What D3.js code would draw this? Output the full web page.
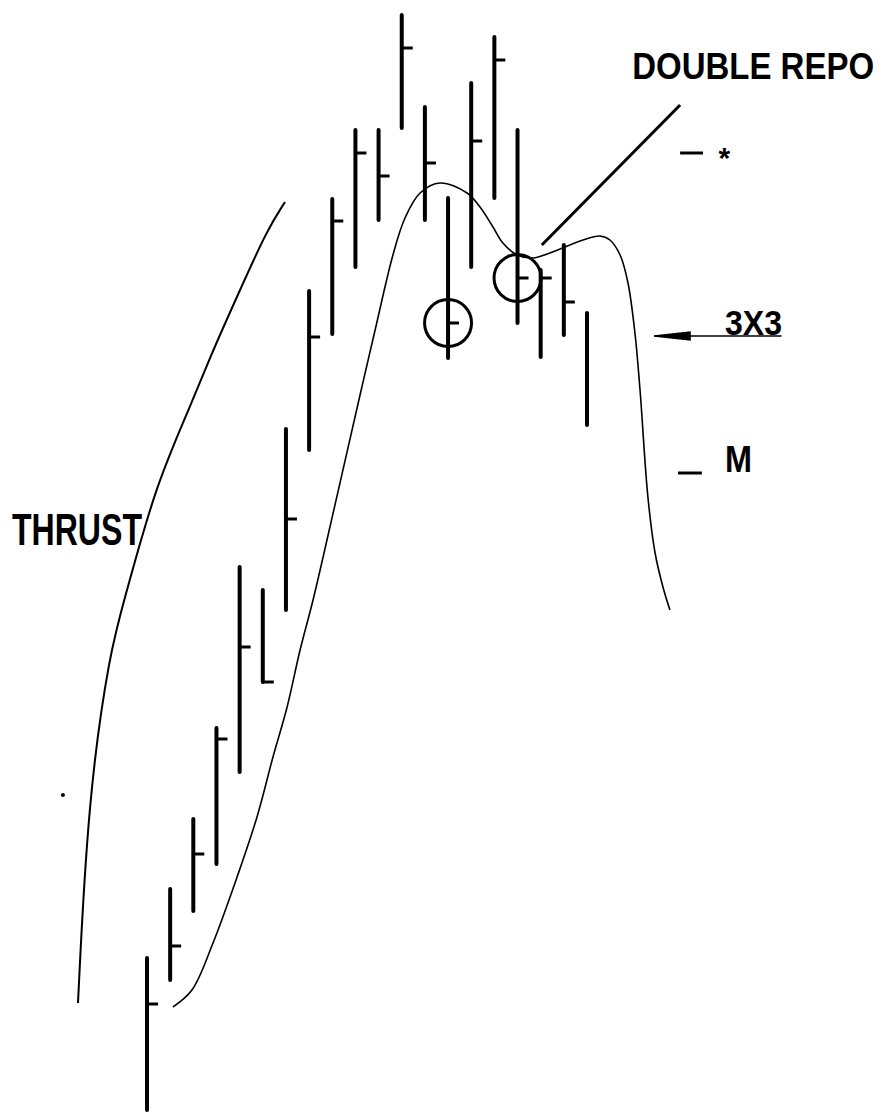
<!DOCTYPE html>
<html>
<script src="https://d3js.org/d3.v7.min.js"></script>
<style>
    body {
        margin: 0;
        background: white;
    }

    text {
        font-family: "Liberation Sans Narrow", "Arial Narrow", "Liberation Sans", sans-serif;
        font-weight: bold;
        fill: black;
    }
</style>

<body>
</body>
<script>
    // bar data (price units)
    const highs = [15.2, 22.1, 29.1, 38.2, 54.3, 52.0, 68.1, 81.9, 91.1, 98.0, 98.0, 109.5, 100.3, 91.2, 102.7, 107.3, 98.0, 84.0, 86.5, 79.7];
    const lows = [0.0, 13.0, 19.9, 24.6, 33.8, 42.8, 50.0, 66.0, 77.6, 84.3, 89.0, 98.2, 89.0, 75.2, 84.3, 91.2, 78.7, 75.3, 77.5, 68.5];
    const closes = [10.6, 16.4, 25.6, 37.1, 46.3, 42.8, 59.1, 77.3, 88.9, 95.7, 93.4, 106.2, 94.7, 78.7, 96.9, 105.0, 83.2, 83.2, 80.8, null];
    const circled = [13, 16];

    // 3x3 displaced moving average
    const dmaIdx = [1.12, 1.94, 2.85, 3.89, 4.75, 5.44, 6.05, 6.61, 7.17, 7.90, 9.15, 9.85, 10.62, 11.14, 11.79, 12.65, 13.82, 14.38, 14.94, 15.37, 15.98, 16.67, 17.40, 18.83, 19.56, 19.99, 20.43, 20.77, 21.07, 21.29, 21.63, 21.94, 22.28, 22.58];
    const dmaVal = [10.3, 12.0, 16.7, 23.3, 29.3, 35.3, 40.3, 46.0, 51.0, 58.3, 71.0, 78.0, 85.5, 89.2, 91.7, 92.7, 91.7, 90.3, 88.3, 86.7, 85.5, 85.2, 85.7, 87.0, 87.4, 87.0, 85.5, 82.7, 77.7, 72.0, 61.3, 55.7, 52.3, 50.0];

    // thrust arc
    const thrustIdx = [-2.98, -2.55, -1.60, -0.95, 0.35, 1.86, 2.85, 4.02, 5.18, 5.96];
    const thrustVal = [10.7, 31.0, 46.0, 51.2, 62.3, 70.3, 76.0, 82.0, 88.0, 90.8];

    const width = 890,
        height = 1114;
    const svg = d3.select("body").append("svg").attr("width", width).attr("height", height);
    svg.append("rect").attr("width", width).attr("height", height).attr("fill", "white");

    const x = d3.scaleLinear().domain([0, 19]).range([147, 587]);
    const y = d3.scaleLinear().domain([0, 110]).range([1110, 10]);

    const line = d3.line()
        .x(d => x(d[0]))
        .y(d => y(d[1]))
        .curve(d3.curveCatmullRom);

    svg.append("path")
        .attr("d", line.curve(d3.curveBasis)(thrustIdx.map((v, i) => [v, thrustVal[i]])))
        .attr("fill", "none")
        .attr("stroke", "black")
        .attr("stroke-width", 2);

    svg.append("path")
        .attr("d", line.curve(d3.curveCatmullRom)(dmaIdx.map((v, i) => [v, dmaVal[i]])))
        .attr("fill", "none")
        .attr("stroke", "black")
        .attr("stroke-width", 1.6);

    // bars
    svg.selectAll(".bar")
        .data(highs)
        .join("line")
        .attr("class", "bar")
        .attr("stroke", "black")
        .attr("stroke-width", 4)
        .attr("stroke-linecap", "round")
        .attr("x1", (d, i) => x(i))
        .attr("x2", (d, i) => x(i))
        .attr("y1", d => y(d))
        .attr("y2", (d, i) => y(lows[i]));

    svg.selectAll(".close")
        .data(closes.map((c, i) => [i, c]).filter(d => d[1] !== null))
        .join("line")
        .attr("class", "close")
        .attr("stroke", "black")
        .attr("stroke-width", 3)
        .attr("x1", d => x(d[0]))
        .attr("x2", d => x(d[0]) + 11)
        .attr("y1", d => y(d[1]))
        .attr("y2", d => y(d[1]));

    svg.selectAll(".ring")
        .data(circled)
        .join("circle")
        .attr("class", "ring")
        .attr("cx", d => x(d))
        .attr("cy", d => y(closes[d]))
        .attr("r", 23.5)
        .attr("fill", "none")
        .attr("stroke", "black")
        .attr("stroke-width", 3);

    // annotations
    svg.append("line")
        .attr("stroke", "black").attr("stroke-width", 3)
        .attr("x1", x(23.02)).attr("y1", y(100.5))
        .attr("x2", x(17.05)).attr("y2", y(86.5));

    // narrow lettering: smaller size stretched vertically
    svg.append("text")
        .attr("transform", `translate(${x(20.95)},${y(103.1)}) scale(1,1.1)`)
        .attr("font-size", 33)
        .text("DOUBLE REPO");

    svg.append("line")
        .attr("stroke", "black").attr("stroke-width", 3)
        .attr("x1", x(23.02)).attr("x2", x(24.01))
        .attr("y1", y(95.7)).attr("y2", y(95.7));
    svg.append("text")
        .attr("x", x(24.93)).attr("y", y(94.2))
        .attr("font-size", 30)
        .attr("text-anchor", "middle")
        .text("*");

    svg.append("line")
        .attr("stroke", "black").attr("stroke-width", 1.5)
        .attr("x1", x(21.9)).attr("x2", x(27.4))
        .attr("y1", y(77.4)).attr("y2", y(77.4));
    svg.append("path")
        .attr("d", `M${x(21.9)},${y(77.4)} L${x(23.45)},${y(77.8)} L${x(23.45)},${y(77.0)} Z`)
        .attr("fill", "black")
        .attr("stroke", "black")
        .attr("stroke-width", 1.5);
    svg.append("text")
        .attr("x", x(24.96)).attr("y", y(77.5))
        .attr("font-size", 35)
        .attr("font-weight", "normal")
        .attr("textLength", 57).attr("lengthAdjust", "spacingAndGlyphs")
        .text("3X3");

    svg.append("line")
        .attr("stroke", "black").attr("stroke-width", 3)
        .attr("x1", x(22.93)).attr("x2", x(23.96))
        .attr("y1", y(63.7)).attr("y2", y(63.7));
    svg.append("text")
        .attr("x", x(24.96)).attr("y", y(63.8))
        .attr("font-size", 37)
        .attr("textLength", 27).attr("lengthAdjust", "spacingAndGlyphs")
        .text("M");

    svg.append("text")
        .attr("x", x(-5.83)).attr("y", y(56.5))
        .attr("font-size", 44)
        .attr("textLength", 130).attr("lengthAdjust", "spacingAndGlyphs")
        .text("THRUST");

    svg.append("circle")
        .attr("cx", x(-3.63)).attr("cy", y(31.5))
        .attr("r", 2).attr("fill", "black");
</script>

</html>
